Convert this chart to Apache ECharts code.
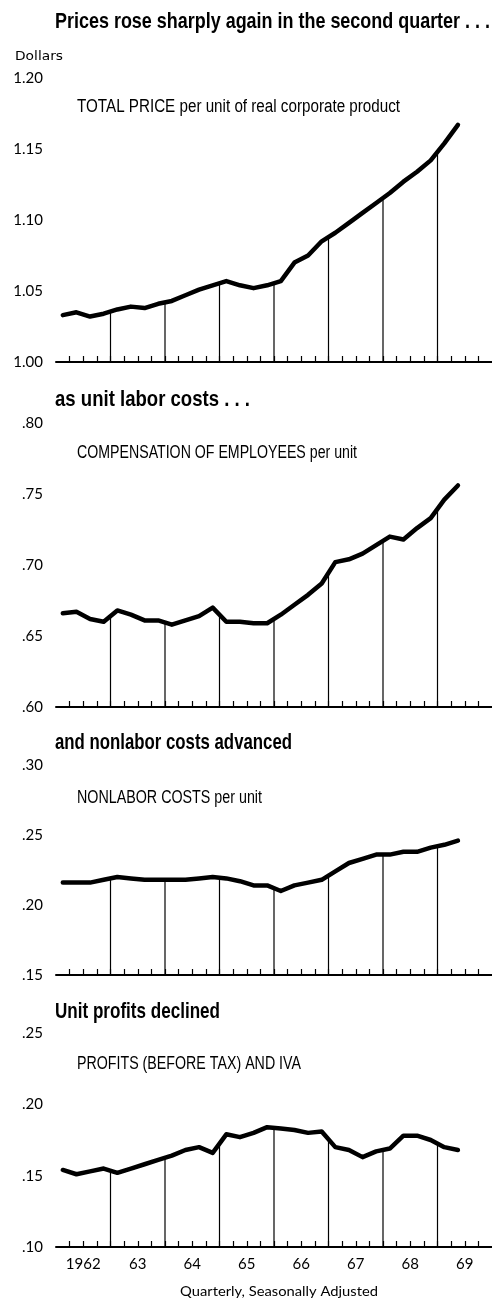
<!DOCTYPE html>
<html>
<head>
<meta charset="utf-8">
<script src="https://cdn.jsdelivr.net/npm/echarts@6/dist/echarts.min.js"></script>
<style>
html, body { margin: 0; padding: 0; background: #fff; }
#container { width: 492px; height: 1298px; }
</style>
</head>
<body>
<div id="container"></div>
<script>
// quarterly, 1962 Q1 .. 1969 Q2
var yearLabels = ['1962', '63', '64', '65', '66', '67', '68', '69'];

var totalPrice = [1.033, 1.035, 1.032, 1.034, 1.037, 1.039, 1.038, 1.041, 1.043, 1.047,
    1.051, 1.054, 1.057, 1.054, 1.052, 1.054, 1.057, 1.070, 1.075, 1.085,
    1.091, 1.098, 1.105, 1.112, 1.119, 1.127, 1.134, 1.142, 1.154, 1.167];

var compensation = [0.666, 0.667, 0.662, 0.660, 0.668, 0.665, 0.661, 0.661, 0.658, 0.661,
    0.664, 0.670, 0.660, 0.660, 0.659, 0.659, 0.665, 0.672, 0.679, 0.687,
    0.702, 0.704, 0.708, 0.714, 0.720, 0.718, 0.726, 0.733, 0.746, 0.756];

var nonlabor = [0.216, 0.216, 0.216, 0.218, 0.220, 0.219, 0.218, 0.218, 0.218, 0.218,
    0.219, 0.220, 0.219, 0.217, 0.214, 0.214, 0.210, 0.214, 0.216, 0.218,
    0.224, 0.230, 0.233, 0.236, 0.236, 0.238, 0.238, 0.241, 0.243, 0.246];

var profits = [0.154, 0.151, 0.153, 0.155, 0.152, 0.155, 0.158, 0.161, 0.164, 0.168,
    0.170, 0.166, 0.179, 0.177, 0.180, 0.184, 0.183, 0.182, 0.180, 0.181,
    0.170, 0.168, 0.163, 0.167, 0.169, 0.178, 0.178, 0.175, 0.170, 0.168];

var panels = [
    {head: 'Prices rose sharply again in the second quarter . . .', headY: 22, headW: 435,
     sub: 'TOTAL PRICE per unit of real corporate product', subY: 107, subW: 323,
     data: totalPrice, min: 1.00, max: 1.20, top: 78, height: 284, lead: true},
    {head: 'as unit labor costs . . .', headY: 400, headW: 195,
     sub: 'COMPENSATION OF EMPLOYEES per unit', subY: 453, subW: 280,
     data: compensation, min: 0.60, max: 0.80, top: 423, height: 284},
    {head: 'and nonlabor costs advanced', headY: 743, headW: 237,
     sub: 'NONLABOR COSTS per unit', subY: 798, subW: 185,
     data: nonlabor, min: 0.15, max: 0.30, top: 765, height: 210},
    {head: 'Unit profits declined', headY: 1012, headW: 165,
     sub: 'PROFITS (BEFORE TAX) AND IVA', subY: 1064, subW: 224,
     data: profits, min: 0.10, max: 0.25, top: 1033, height: 214}
];

var HEAD_FONT = 'bold 22px "Liberation Sans"';
var SUB_FONT = '18px "Liberation Sans"';

// squeeze a text horizontally to the width it has in the original print
var measureCtx = document.createElement('canvas').getContext('2d');
function squeeze(text, font, target) {
    measureCtx.font = font;
    return target / measureCtx.measureText(text).width;
}

var dom = document.getElementById('container');
var myChart = echarts.init(dom);

var quarterTicks = [];
for (var q = 1; q < 32; q++) quarterTicks.push(q);
var yearMids = yearLabels.map(function (y, i) { return i * 4 + 2; });

var grids = [], xAxes = [], yAxes = [], series = [], graphics = [];

panels.forEach(function (p, g) {
    var last = g === panels.length - 1;
    grids.push({left: 56, width: 437, top: p.top, height: p.height});
    xAxes.push({
        gridIndex: g, type: 'value', min: 0, max: 32, interval: 1,
        axisLine: {lineStyle: {color: '#000', width: 2}},
        axisTick: {inside: true, length: 6, customValues: quarterTicks,
                   lineStyle: {color: '#000', width: 1.2}},
        splitLine: {show: false},
        axisLabel: {
            show: last, margin: 10, color: '#000', fontSize: 15, fontFamily: 'Lato',
            customValues: yearMids,
            formatter: function (v) {
                return yearLabels[Math.round((v - 2) / 4)];
            }
        }
    });
    yAxes.push({
        gridIndex: g, type: 'value', min: p.min, max: p.max, interval: 0.05,
        axisLine: {show: false}, axisTick: {show: false}, splitLine: {show: false},
        axisLabel: {
            color: '#000', fontSize: 15, fontFamily: 'Lato', margin: 13,
            formatter: function (v) {
                var s = v.toFixed(2);
                return p.lead ? s : s.replace(/^0/, '');
            }
        }
    });
    series.push({
        type: 'line', xAxisIndex: g, yAxisIndex: g, showSymbol: false,
        lineStyle: {color: '#000', width: 4.5, cap: 'round', join: 'round'},
        data: p.data.map(function (v, i) { return [i + 0.5, v]; })
    });
    // year-end drop lines, from the curve down to the axis
    var drops = [];
    for (var k = 4; k < p.data.length; k += 4) {
        drops.push([k, (p.data[k - 1] + p.data[k]) / 2]);
    }
    series.push({
        type: 'custom', xAxisIndex: g, yAxisIndex: g, silent: true,
        renderItem: function (params, api) {
            var a = api.coord([api.value(0), api.value(1)]);
            var b = api.coord([api.value(0), p.min]);
            return {type: 'line', shape: {x1: a[0], y1: a[1], x2: b[0], y2: b[1]},
                    style: {stroke: '#000', lineWidth: 1.2}};
        },
        data: drops
    });
    graphics.push({type: 'text', x: 55, y: p.headY, scaleX: squeeze(p.head, HEAD_FONT, p.headW),
        style: {text: p.head, fill: '#000', font: HEAD_FONT, verticalAlign: 'middle'}});
    graphics.push({type: 'text', x: 77, y: p.subY, scaleX: squeeze(p.sub, SUB_FONT, p.subW),
        style: {text: p.sub, fill: '#000', font: SUB_FONT, verticalAlign: 'middle'}});
});

var DOLLAR_FONT = '12px "DejaVu Sans"';
graphics.push({type: 'text', x: 15, y: 57, scaleX: squeeze('Dollars', DOLLAR_FONT, 48),
    style: {text: 'Dollars', fill: '#000', font: DOLLAR_FONT, verticalAlign: 'middle'}});
var NOTE_FONT = '13px Lato';
var note = 'Quarterly, Seasonally Adjusted';
graphics.push({type: 'text', x: 180, y: 1292, scaleX: squeeze(note, NOTE_FONT, 198),
    style: {text: note, fill: '#000', font: NOTE_FONT, verticalAlign: 'middle'}});

option = {
    animation: false,
    backgroundColor: '#fff',
    grid: grids,
    xAxis: xAxes,
    yAxis: yAxes,
    series: series,
    graphic: graphics
};

if (option && typeof option === "object") {
    myChart.setOption(option, true);
}
</script>
</body>
</html>
